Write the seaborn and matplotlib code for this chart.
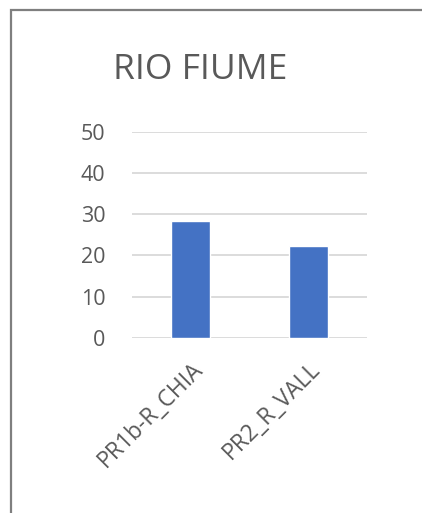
import matplotlib
matplotlib.use("Agg")
import matplotlib.pyplot as plt
from matplotlib.patches import Rectangle
import seaborn as sns
import pandas as pd

# Station data for the river sampling points
stations = ["PR1b-R_CHIA", "PR2_R_VALL"]
values = [28.3, 22.3]
y_ticks = [0, 10, 20, 30, 40, 50]
title = "RIO FIUME"

sns.set_theme(style="white")
plt.rcParams["font.family"] = ["Open Sans", "DejaVu Sans"]

df = pd.DataFrame({"station": stations, "value": values})

W, H = 422, 513
fig = plt.figure(figsize=(W / 100, H / 100), dpi=100)
fig.patch.set_facecolor("white")

left, right = 132 / W, 367 / W
bottom, top = 1 - 338 / H, 1 - 131.5 / H
ax = fig.add_axes([left, bottom, right - left, top - bottom])

sns.barplot(data=df, x="station", y="value", color="#4472C4",
            width=0.33, saturation=1, ax=ax, zorder=3)

ax.set_ylim(0, 50)
ax.set_yticks(y_ticks)
ax.set_yticklabels([str(t) for t in y_ticks])
ax.set_xlim(-0.5, 1.5)
ax.yaxis.grid(True, color="#D9D9D9", linewidth=1.3, zorder=0)
ax.set_axisbelow(True)
for s in ax.spines.values():
    s.set_visible(False)
ax.set_xlabel("")
ax.set_ylabel("")

ax.tick_params(axis="y", length=0, pad=19, labelsize=15.5, labelcolor="#595959")
ax.tick_params(axis="x", length=0, pad=14, labelsize=16.5, labelcolor="#595959")
for lbl in ax.get_xticklabels():
    lbl.set_rotation(45)
    lbl.set_ha("right")
    lbl.set_rotation_mode("anchor")

fig.text(200 / W, 1 - 70 / H, title, ha="center", va="center",
         fontsize=25.5, color="#595959")

# Chart frame
fig.add_artist(Rectangle((11 / W, -0.1), 1.2, 1 - 10 / H + 0.1,
                         transform=fig.transFigure, fill=False,
                         edgecolor="#7F7F7F", linewidth=1.6))

fig.savefig("out.png", dpi=100)
